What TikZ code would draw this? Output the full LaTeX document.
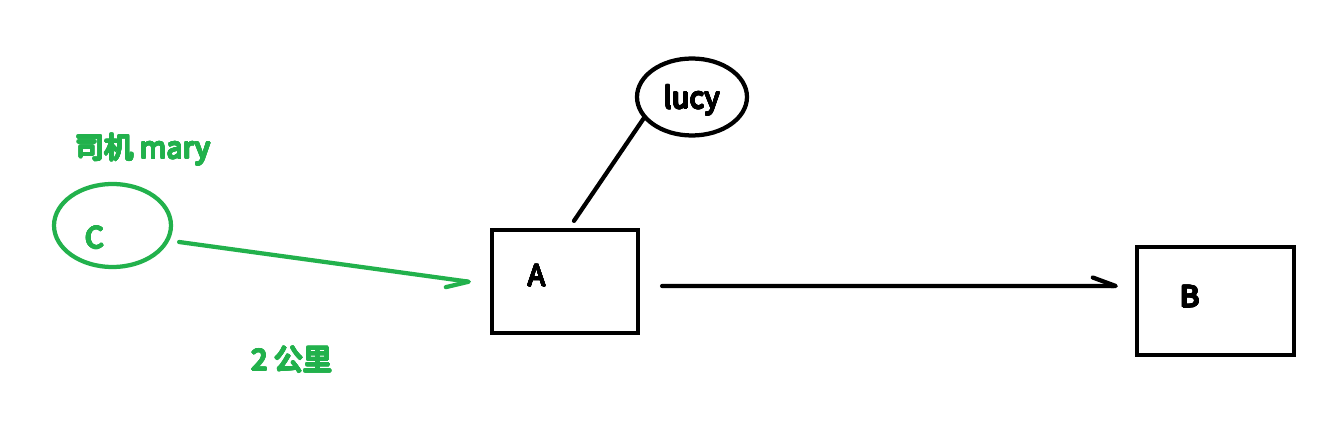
\documentclass[tikz,border=0pt]{standalone}
\usepackage{fontspec}
\setmainfont{Noto Sans CJK SC}
\usepackage[copies]{contour}
\contourlength{0.45pt}
\contournumber{24}
\usepackage{tikz}
\usetikzlibrary{positioning, arrows.meta, shapes.geometric}
\definecolor{paintgreen}{RGB}{34,177,76}
\newcommand{\heavy}[2][black]{\contour{#1}{#2}}

\begin{document}
\begin{tikzpicture}[x=0.02cm, y=-0.02cm, line cap=round,
  every node/.style={font=\fontsize{16.5}{20}\selectfont},
  box/.style={draw, line width=0.085cm, rectangle, inner sep=0pt},
  bubble/.style={draw, line width=0.085cm, ellipse, inner sep=0pt},
  barb/.style={-{Straight Barb[harpoon, length=0.46cm, width=0.34cm, round]}},
  swapbarb/.style={-{Straight Barb[harpoon, swap, length=0.44cm, width=0.34cm, round]}}]

\useasboundingbox (0,0) rectangle (1343,422);

% Boxes
\node (Abox) [box, minimum width=2.92cm, minimum height=2.06cm] at (565,281.5) {};
\node (Bbox) [box, minimum width=3.14cm, minimum height=2.16cm] at (1215.5,301) {};
\node (Alabel) at (537,276) {\heavy{A}};
\node (Blabel) at (1190,297) {\heavy{B}};

% Lucy (top)
\node (lucy) [bubble, minimum width=2.2cm, minimum height=1.54cm, text height=16.5pt, text depth=3.5pt] at (692,97) {\heavy{lucy}};

% Driver C (left, green)
\node (Cell) [bubble, draw=paintgreen, minimum width=2.34cm, minimum height=1.66cm] at (112.5,225.5) {};
\node (Clabel) [text=paintgreen] at (95,238) {\heavy[paintgreen]{C}};
\node (driver) [text=paintgreen] at (143,150) {\heavy[paintgreen]{司机 mary}};
\node (dist) [text=paintgreen] at (292,360) {\heavy[paintgreen]{2 公里}};

% Connectors
\draw[line width=0.085cm] (lucy.204) -- ([shift={(9,-7)}]Abox.north);
\draw[barb, line width=0.085cm] ([shift={(22,4.5)}]Abox.east) -- ([shift={(-17,-15)}]Bbox.west);
\draw[swapbarb, line width=0.085cm, paintgreen] ([shift={(6,16.5)}]Cell.east) -- ([shift={(-19,0.5)}]Abox.west);

\end{tikzpicture}
\end{document}
